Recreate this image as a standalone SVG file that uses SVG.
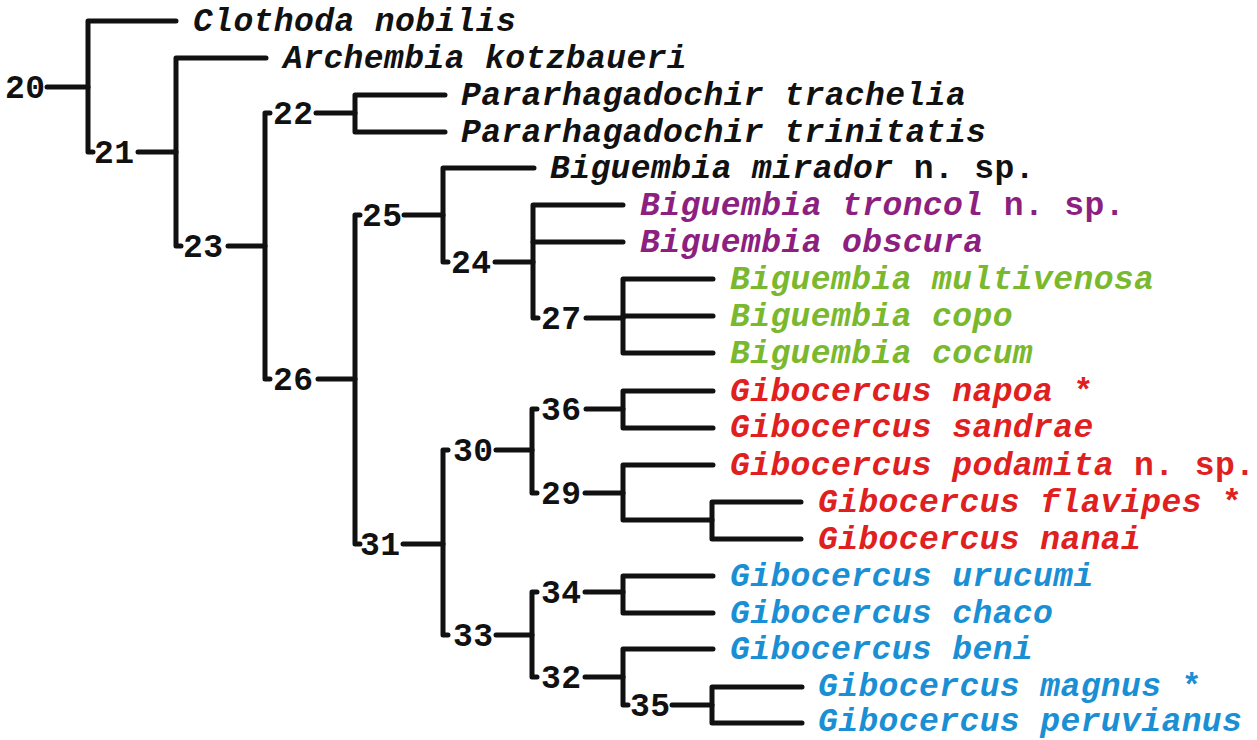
<svg xmlns="http://www.w3.org/2000/svg" width="1257" height="740" viewBox="0 0 1257 740">
  <style>
    .br { fill: none; stroke: #111; stroke-width: 5; stroke-linecap: round; stroke-linejoin: round; }
    .lf { font-family: "Liberation Mono", "DejaVu Sans Mono", monospace; font-size: 33px; font-weight: bold; font-style: italic; letter-spacing: 0.4px; }
    .nd { font-family: "Liberation Mono", "DejaVu Sans Mono", monospace; font-size: 33px; font-weight: bold; fill: #111; letter-spacing: 0.4px; }
    .up { font-style: normal; }
    .k { fill: #111; }
    .pu { fill: #8c1f80; }
    .gr { fill: #7ab82e; }
    .rd { fill: #e0201e; }
    .bl { fill: #1a8fd4; }
  </style>
  <rect width="1257" height="740" fill="#fff"/>

  <!-- tree branches -->
  <g id="connectors">
    <path class="br" d="M47,87 H88"/>
    <path class="br" d="M176,21 H88 V152 H93"/>
    <path class="br" d="M138,152 H176"/>
    <path class="br" d="M266,58 H176 V246 H181"/>
    <path class="br" d="M228,246 H265"/>
    <path class="br" d="M270,113 H265 V379 H270"/>
    <path class="br" d="M316,113 H355"/>
    <path class="br" d="M318,379 H355"/>
    <path class="br" d="M445,95 H355 V132 H445"/>
    <path class="br" d="M360,215 H355 V544 H360"/>
    <path class="br" d="M404,215 H443"/>
    <path class="br" d="M403,544 H443"/>
    <path class="br" d="M534,168 H443 V262 H448"/>
    <path class="br" d="M495,262 H533"/>
    <path class="br" d="M623,205 H533 V318 H538"/>
    <path class="br" d="M533,242 H623"/>
    <path class="br" d="M586,318 H623"/>
    <path class="br" d="M713,279 H623 V353 H713"/>
    <path class="br" d="M623,316 H713"/>
    <path class="br" d="M448,450 H443 V635 H448"/>
    <path class="br" d="M496,450 H532"/>
    <path class="br" d="M496,635 H532"/>
    <path class="br" d="M537,409 H532 V493 H537"/>
    <path class="br" d="M586,409 H623"/>
    <path class="br" d="M585,493 H623"/>
    <path class="br" d="M713,391 H623 V428 H713"/>
    <path class="br" d="M713,465 H623 V520 H712"/>
    <path class="br" d="M801,502 H712 V539 H801"/>
    <path class="br" d="M537,592 H532 V677 H537"/>
    <path class="br" d="M585,592 H623"/>
    <path class="br" d="M585,677 H623"/>
    <path class="br" d="M713,576 H623 V613 H713"/>
    <path class="br" d="M713,649 H623 V705 H628"/>
    <path class="br" d="M672,705 H712"/>
    <path class="br" d="M802,687 H712 V723 H802"/>
  </g>

  <!-- internal node numbers -->
  <g id="n20"><text class="nd" x="5" y="98">20</text></g>
  <g id="n21"><text class="nd" x="94" y="163">21</text></g>
  <g id="n23"><text class="nd" x="183" y="257">23</text></g>
  <g id="n22"><text class="nd" x="273" y="124">22</text></g>
  <g id="n26"><text class="nd" x="273" y="390">26</text></g>
  <g id="n25"><text class="nd" x="362" y="226">25</text></g>
  <g id="n31"><text class="nd" x="360" y="555">31</text></g>
  <g id="n24"><text class="nd" x="451" y="273">24</text></g>
  <g id="n30"><text class="nd" x="453" y="461">30</text></g>
  <g id="n33"><text class="nd" x="453" y="646">33</text></g>
  <g id="n27"><text class="nd" x="541" y="329">27</text></g>
  <g id="n36"><text class="nd" x="541" y="420">36</text></g>
  <g id="n29"><text class="nd" x="541" y="504">29</text></g>
  <g id="n34"><text class="nd" x="541" y="603">34</text></g>
  <g id="n32"><text class="nd" x="541" y="688">32</text></g>
  <g id="n35"><text class="nd" x="630" y="716">35</text></g>

  <!-- terminal taxa -->
  <g id="clothoda-nobilis"><text class="lf k" x="193" y="31">Clothoda nobilis</text></g>
  <g id="archembia-kotzbaueri"><text class="lf k" x="283" y="68">Archembia kotzbaueri</text></g>
  <g id="pararhagadochir-trachelia"><text class="lf k" x="461" y="105">Pararhagadochir trachelia</text></g>
  <g id="pararhagadochir-trinitatis"><text class="lf k" x="461" y="142">Pararhagadochir trinitatis</text></g>
  <g id="biguembia-mirador"><text class="lf k" x="550" y="178">Biguembia mirador <tspan class="up">n. sp.</tspan></text></g>
  <g id="biguembia-troncol"><text class="lf pu" x="640" y="215">Biguembia troncol <tspan class="up">n. sp.</tspan></text></g>
  <g id="biguembia-obscura"><text class="lf pu" x="640" y="252">Biguembia obscura</text></g>
  <g id="biguembia-multivenosa"><text class="lf gr" x="730" y="289">Biguembia multivenosa</text></g>
  <g id="biguembia-copo"><text class="lf gr" x="730" y="326">Biguembia copo</text></g>
  <g id="biguembia-cocum"><text class="lf gr" x="730" y="363">Biguembia cocum</text></g>
  <g id="gibocercus-napoa"><text class="lf rd" x="730" y="401">Gibocercus napoa <tspan class="up">*</tspan></text></g>
  <g id="gibocercus-sandrae"><text class="lf rd" x="730" y="437">Gibocercus sandrae</text></g>
  <g id="gibocercus-podamita"><text class="lf rd" x="730" y="475">Gibocercus podamita <tspan class="up">n. sp.</tspan></text></g>
  <g id="gibocercus-flavipes"><text class="lf rd" x="818" y="512">Gibocercus flavipes <tspan class="up">*</tspan></text></g>
  <g id="gibocercus-nanai"><text class="lf rd" x="818" y="549">Gibocercus nanai</text></g>
  <g id="gibocercus-urucumi"><text class="lf bl" x="730" y="586">Gibocercus urucumi</text></g>
  <g id="gibocercus-chaco"><text class="lf bl" x="730" y="623">Gibocercus chaco</text></g>
  <g id="gibocercus-beni"><text class="lf bl" x="730" y="659">Gibocercus beni</text></g>
  <g id="gibocercus-magnus"><text class="lf bl" x="818" y="696">Gibocercus magnus <tspan class="up">*</tspan></text></g>
  <g id="gibocercus-peruvianus"><text class="lf bl" x="818" y="731">Gibocercus peruvianus</text></g>
</svg>
